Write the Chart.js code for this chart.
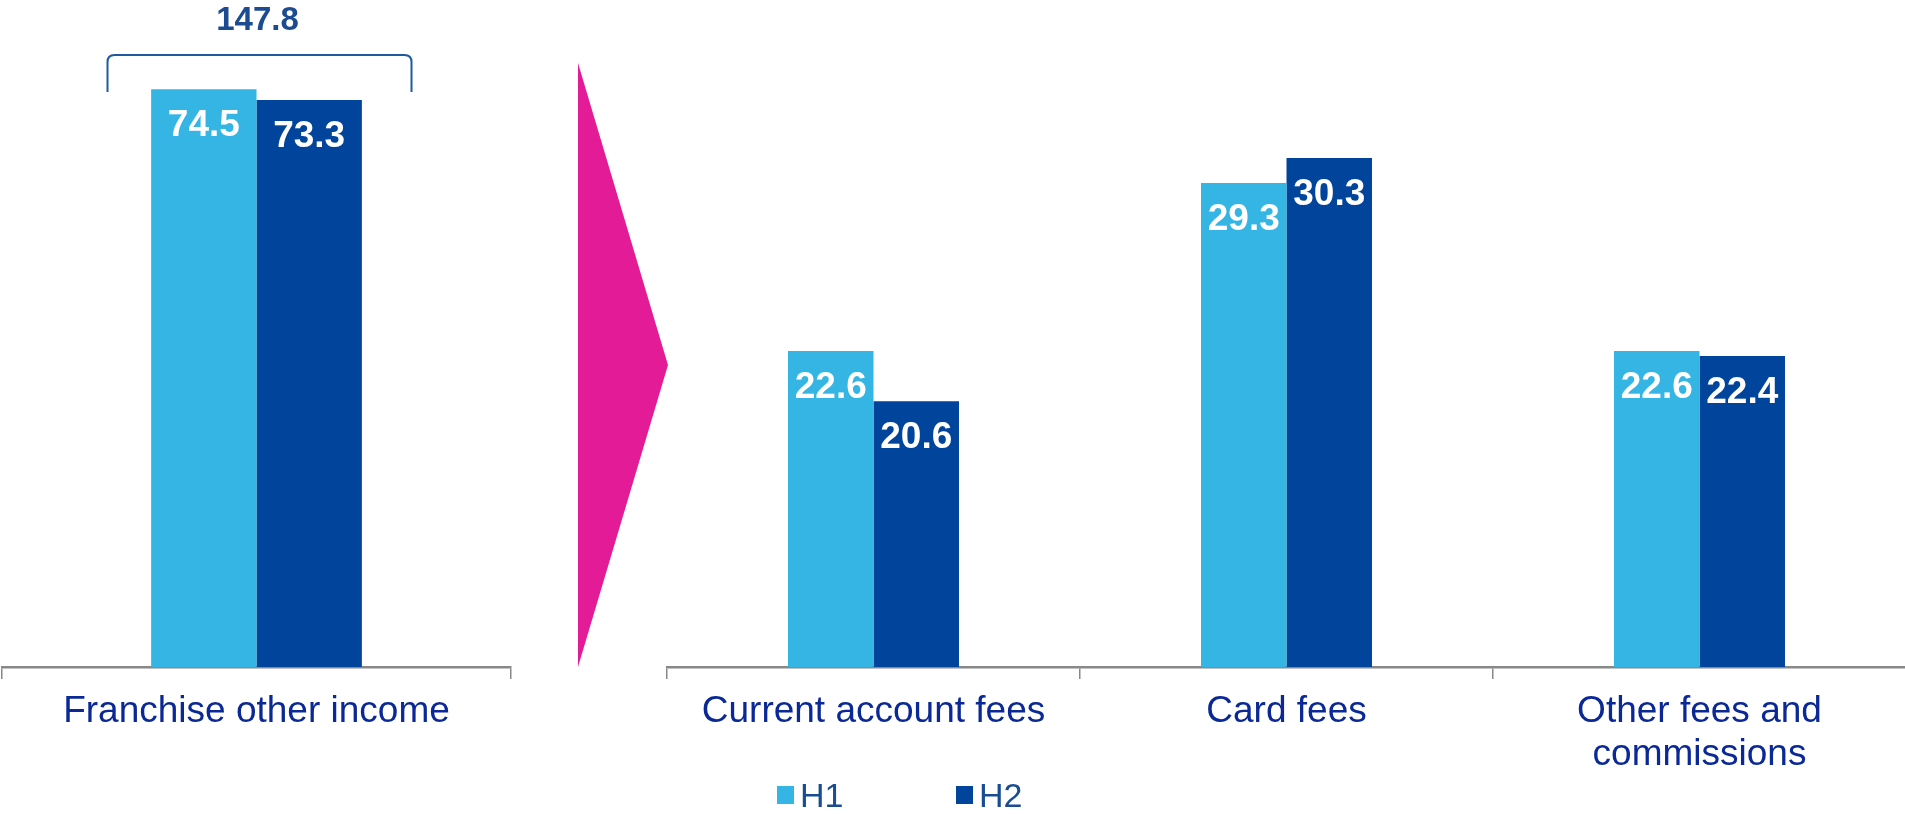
<!DOCTYPE html>
<html>
<head>
<meta charset="utf-8">
<title>Franchise other income</title>
<script src="https://cdn.jsdelivr.net/npm/chart.js@4.4.1/dist/chart.umd.min.js"></script>
<style>
  html, body { margin: 0; padding: 0; background: #fff; overflow: hidden; }
  body { width: 1905px; height: 814px; position: relative; }
  #leftChart { position: absolute; left: 0; top: 0; }
  #rightChart { position: absolute; left: 660px; top: 0; }
  #arrow {
    position: absolute; left: 578px; top: 63px; width: 90px; height: 604px;
    background: #e31b96; clip-path: polygon(0 0, 100% 50%, 0 100%);
  }
</style>
</head>
<body>
<canvas id="leftChart" width="520" height="814"></canvas>
<div id="arrow"></div>
<canvas id="rightChart" width="1250" height="814"></canvas>
<script>
const seriesNames = ['H1', 'H2'];
const seriesColors = ['#35b5e3', '#00449b'];

const leftCategories = ['Franchise other income'];
const leftH1 = [74.5];
const leftH2 = [73.3];

const rightCategories = ['Current account fees', 'Card fees', ['Other fees and', 'commissions']];
const rightH1 = [22.6, 29.3, 22.6];
const rightH2 = [20.6, 30.3, 22.4];

const leftRange = [10, 80];
const rightRange = [10, 35];

const FONT = '"Liberation Sans", Arial, sans-serif';

// white value inside the top of every bar
const valueLabels = {
  id: 'valueLabels',
  afterDatasetsDraw(chart) {
    const ctx = chart.ctx;
    ctx.save();
    ctx.font = 'bold 37px ' + FONT;
    ctx.fillStyle = '#ffffff';
    ctx.textAlign = 'center';
    ctx.textBaseline = 'alphabetic';
    chart.data.datasets.forEach((ds, i) => {
      chart.getDatasetMeta(i).data.forEach((bar, j) => {
        ctx.fillText(ds.data[j].toFixed(1), bar.x, bar.y + 47);
      });
    });
    ctx.restore();
  }
};

// bracket with the total over the left group
const totalBracket = {
  id: 'totalBracket',
  afterDraw(chart) {
    const ctx = chart.ctx;
    const cx = chart.scales.x.getPixelForValue(0) + 3;
    const left = cx - 152, right = cx + 152, top = 55, bottom = 92, r = 7;
    ctx.save();
    ctx.strokeStyle = '#1f5aa0';
    ctx.lineWidth = 2;
    ctx.beginPath();
    ctx.moveTo(left, bottom);
    ctx.lineTo(left, top + r);
    ctx.quadraticCurveTo(left, top, left + r, top);
    ctx.lineTo(right - r, top);
    ctx.quadraticCurveTo(right, top, right, top + r);
    ctx.lineTo(right, bottom);
    ctx.stroke();
    const total = leftH1[0] + leftH2[0];
    ctx.font = 'bold 33px ' + FONT;
    ctx.fillStyle = '#1d4b91';
    ctx.textAlign = 'center';
    ctx.textBaseline = 'alphabetic';
    ctx.fillText(total.toFixed(1), cx - 2, 30);
    ctx.restore();
  }
};

// legend at the bottom, under the right chart
const bottomLegend = {
  id: 'bottomLegend',
  afterDraw(chart) {
    const ctx = chart.ctx;
    const xs = [117, 296];
    ctx.save();
    ctx.font = '34px ' + FONT;
    ctx.textBaseline = 'alphabetic';
    chart.data.datasets.forEach((ds, i) => {
      ctx.fillStyle = ds.backgroundColor;
      ctx.fillRect(xs[i], 786, 17, 18);
      ctx.fillStyle = '#1a4c94';
      ctx.fillText(ds.label, xs[i] + 23, 807);
    });
    ctx.restore();
  }
};

function makeChart(id, labels, h1, h2, range, padLeft, padRight, extra) {
  return new Chart(document.getElementById(id), {
    type: 'bar',
    data: {
      labels: labels,
      datasets: [
        { label: seriesNames[0], data: h1, backgroundColor: seriesColors[0], categoryPercentage: 0.414, barPercentage: 1 },
        { label: seriesNames[1], data: h2, backgroundColor: seriesColors[1], categoryPercentage: 0.414, barPercentage: 1 }
      ]
    },
    options: {
      responsive: false,
      animation: false,
      devicePixelRatio: 1,
      layout: { padding: { top: 40, left: padLeft, right: padRight, bottom: 0 } },
      plugins: { legend: { display: false }, tooltip: { enabled: false } },
      scales: {
        x: {
          afterFit(scale) { scale.height = 147; },
          grid: { drawOnChartArea: false, drawTicks: true, tickLength: 12, color: '#888888', lineWidth: 1.5, offset: true },
          border: { display: true, color: '#888888', width: 2.5 },
          ticks: {
            color: '#0a2896', padding: 11, maxRotation: 0, autoSkip: false,
            font: { family: FONT, size: 37, lineHeight: 1.17 }
          }
        },
        y: { display: false, min: range[0], max: range[1] }
      }
    },
    plugins: [valueLabels].concat(extra)
  });
}

makeChart('leftChart', leftCategories, leftH1, leftH2, leftRange, 2, 9, [totalBracket]);
makeChart('rightChart', rightCategories, rightH1, rightH2, rightRange, 7, 4, [bottomLegend]);
</script>
</body>
</html>
